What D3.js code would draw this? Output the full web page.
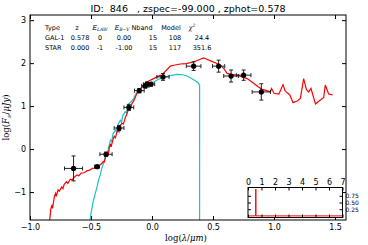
<!DOCTYPE html>
<html>
<head>
<meta charset="utf-8">
<script src="https://cdn.jsdelivr.net/npm/d3@7"></script>
<style>
  body { margin: 0; background: #fff; }
  svg { display: block; font-family: "DejaVu Sans", sans-serif; }
  .math { font-family: "DejaVu Serif", serif; }
</style>
</head>
<body>
<div id="graf"></div>
<script>
// datos fotometricos (log lambda, log flux, errores)
photX    = [-0.643, -0.451, -0.377, -0.27, -0.19, -0.104, -0.055, -0.041, -0.008, 0.09, 0.341, 0.546, 0.648, 0.751, 0.896]
photY    = [-0.45, -0.41, -0.12, 0.49, 0.97, 1.36, 1.47, 1.51, 1.51, 1.68, 1.93, 1.93, 1.70, 1.72, 1.33]
photXErr = [0.074, 0.02, 0.05, 0.04, 0.04, 0.04, 0.03, 0.03, 0.03, 0.05, 0.06, 0.05, 0.06, 0.06, 0.075]
photYErr = [0.29, 0.03, 0.05, 0.06, 0.07, 0.05, 0.05, 0.05, 0.04, 0.08, 0.1, 0.14, 0.14, 0.12, 0.19]

// template galaxia (rojo)
galX = [-0.84, -0.83, -0.82, -0.815, -0.80, -0.79, -0.785, -0.77, -0.76, -0.74, -0.73, -0.72, -0.70, -0.69, -0.67, -0.655, -0.64, -0.615, -0.60, -0.58, -0.56, -0.54, -0.53, -0.51, -0.49, -0.47, -0.45, -0.43, -0.41, -0.40, -0.39, -0.38, -0.37, -0.36, -0.35, -0.34, -0.335, -0.32, -0.31, -0.30, -0.29, -0.28, -0.27, -0.26, -0.246, -0.235, -0.22, -0.205, -0.19, -0.18, -0.164, -0.15, -0.123, -0.10, -0.08, -0.055, -0.03, 0.013, 0.04, 0.068, 0.085, 0.095, 0.12, 0.15, 0.18, 0.232, 0.28, 0.314, 0.36, 0.396, 0.423, 0.45, 0.49, 0.533, 0.56, 0.587, 0.615, 0.65, 0.697, 0.74, 0.779, 0.81, 0.833, 0.87, 0.902, 0.94, 0.97, 0.98, 1.0, 1.04, 1.074, 1.09, 1.10, 1.13, 1.156, 1.19, 1.216, 1.243, 1.265, 1.284, 1.303, 1.34, 1.38, 1.407, 1.42, 1.448, 1.48]
galY = [-1.70, -1.40, -1.30, -1.38, -1.10, -1.03, -1.10, -0.95, -0.98, -0.88, -0.92, -0.82, -0.76, -0.80, -0.70, -0.72, -0.66, -0.60, -0.62, -0.56, -0.55, -0.52, -0.50, -0.49, -0.45, -0.44, -0.41, -0.38, -0.33, -0.29, -0.30, -0.18, -0.10, -0.14, 0.02, 0.12, 0.05, 0.22, 0.30, 0.26, 0.37, 0.45, 0.40, 0.55, 0.60, 0.58, 0.72, 0.83, 0.95, 0.92, 1.06, 1.12, 1.30, 1.38, 1.45, 1.53, 1.58, 1.64, 1.68, 1.72, 1.70, 1.77, 1.84, 1.93, 1.95, 1.98, 1.99, 2.01, 2.05, 2.09, 2.12, 2.09, 2.04, 1.99, 1.95, 1.88, 1.76, 1.74, 1.72, 1.68, 1.64, 1.58, 1.53, 1.45, 1.39, 1.36, 1.33, 1.41, 1.30, 1.28, 1.50, 1.36, 1.33, 1.26, 1.08, 1.12, 1.18, 1.64, 1.39, 1.33, 1.41, 1.05, 1.14, 1.20, 1.49, 1.28, 1.26]

// template estrella (cian)
starX = [-0.51, -0.50, -0.49, -0.48, -0.465, -0.45, -0.44, -0.424, -0.41, -0.397, -0.385, -0.37, -0.36, -0.35, -0.34, -0.33, -0.32, -0.30, -0.29, -0.28, -0.26, -0.25, -0.24, -0.22, -0.21, -0.19, -0.17, -0.15, -0.123, -0.09, -0.055, 0.013, 0.05, 0.095, 0.15, 0.205, 0.25, 0.287, 0.32, 0.355, 0.375, 0.39, 0.39]
starY = [-1.70, -1.50, -1.34, -1.19, -1.03, -0.88, -0.74, -0.60, -0.43, -0.33, -0.20, -0.10, -0.02, 0.10, 0.21, 0.18, 0.35, 0.44, 0.40, 0.56, 0.67, 0.62, 0.78, 0.87, 0.84, 1.06, 1.10, 1.18, 1.33, 1.42, 1.49, 1.56, 1.62, 1.67, 1.71, 1.74, 1.73, 1.70, 1.65, 1.59, 1.55, 1.49, -1.70]

// P(z)
pzX = [0, 0.565, 0.578, 0.591, 7]
pzY = [0, 0, 1, 0, 0]

// tabla
tablaHeader = ['Type', 'z', 'E_LAW', 'E_B-V', 'Nband', 'Model', 'χ²']
tablaRows = [
  ['GAL-1', '0.578', '0', '0.00', '15', '108', '24.4'],
  ['STAR', '0.000', '-1', '-1.00', '15', '117', '351.6']
]

xTicks = [-1.0, -0.5, 0.0, 0.5, 1.0, 1.5]
yTicks = [-1, 0, 1, 2, 3]
pzXTicks = [0, 1, 2, 3, 4, 5, 6, 7]
pzYTicks = [0.25, 0.5, 0.75]

titulo = 'ID:  846   , zspec=-99.000 , zphot=0.578'

// Configuracion de tamanos
ancho_total = 368
alto_total = 245
margins = { top: 15, left: 30, right: 22, bottom: 25 }
ancho = ancho_total - margins.left - margins.right
alto = alto_total - margins.top - margins.bottom

svg = d3.select('#graf').append('svg')
  .attr('width', ancho_total)
  .attr('height', alto_total)

g = svg.append('g')
  .attr('transform', `translate(${margins.left}, ${margins.top})`)

x = d3.scaleLinear().domain([-1, 1.59]).range([0, ancho])
y = d3.scaleLinear().domain([-1.65, 3.12]).range([alto, 0])

g.append('clipPath').attr('id', 'clip')
  .append('rect').attr('width', ancho).attr('height', alto)

linea = d3.line().x(d => x(d[0])).y(d => y(d[1]))

plot = g.append('g').attr('clip-path', 'url(#clip)')

plot.append('path')
  .datum(starX.map((d, i) => [d, starY[i]]))
  .attr('d', linea)
  .attr('fill', 'none')
  .attr('stroke', '#19c3c8')
  .attr('stroke-width', 1.2)

plot.append('path')
  .datum(galX.map((d, i) => [d, galY[i]]))
  .attr('d', linea)
  .attr('fill', 'none')
  .attr('stroke', '#ff0000')
  .attr('stroke-width', 1.2)

// barras de error
puntos = photX.map((d, i) => ({ x: d, y: photY[i], xe: photXErr[i], ye: photYErr[i] }))
eb = plot.append('g').attr('stroke', '#222').attr('stroke-width', 1)
puntos.forEach(d => {
  eb.append('line').attr('x1', x(d.x - d.xe)).attr('x2', x(d.x + d.xe)).attr('y1', y(d.y)).attr('y2', y(d.y))
  eb.append('line').attr('x1', x(d.x)).attr('x2', x(d.x)).attr('y1', y(d.y - d.ye)).attr('y2', y(d.y + d.ye))
  ;[d.x - d.xe, d.x + d.xe].forEach(v => {
    eb.append('line').attr('x1', x(v)).attr('x2', x(v)).attr('y1', y(d.y) - 2).attr('y2', y(d.y) + 2)
  })
  ;[d.y - d.ye, d.y + d.ye].forEach(v => {
    eb.append('line').attr('x1', x(d.x) - 2).attr('x2', x(d.x) + 2).attr('y1', y(v)).attr('y2', y(v))
  })
})
plot.selectAll('circle.pt').data(puntos).enter()
  .append('circle').attr('class', 'pt')
  .attr('cx', d => x(d.x)).attr('cy', d => y(d.y))
  .attr('r', 2.6).attr('fill', '#000')

// ejes (ticks hacia dentro)
function estiloEje(sel) {
  sel.select('.domain').remove()
  sel.selectAll('text').attr('font-size', 8).attr('font-family', '"DejaVu Sans", sans-serif').attr('fill', '#000')
  sel.selectAll('line').attr('stroke', '#000')
}
g.append('g').attr('transform', `translate(0, ${alto})`)
  .call(d3.axisBottom(x).tickValues(xTicks).tickFormat(d3.format('.1f')).tickSize(-4).tickPadding(4))
  .call(estiloEje)
g.append('g')
  .call(d3.axisTop(x).tickValues(xTicks).tickFormat('').tickSize(-4))
  .call(estiloEje)
g.append('g')
  .call(d3.axisLeft(y).tickValues(yTicks).tickFormat(d3.format('d')).tickSize(-4).tickPadding(4))
  .call(estiloEje)
g.append('g').attr('transform', `translate(${ancho}, 0)`)
  .call(d3.axisRight(y).tickValues(yTicks).tickFormat('').tickSize(-4))
  .call(estiloEje)

g.append('rect').attr('width', ancho).attr('height', alto)
  .attr('fill', 'none').attr('stroke', '#000').attr('stroke-width', 1)

// titulo y etiquetas
svg.append('text').attr('x', margins.left + ancho / 2).attr('y', 12)
  .attr('text-anchor', 'middle').attr('font-size', 9.5).style('white-space', 'pre')
  .text(titulo)

xl = svg.append('text').attr('class', 'math').attr('x', margins.left + ancho / 2 - 2).attr('y', 241)
  .attr('text-anchor', 'middle').attr('font-size', 8.5)
xl.append('tspan').text('log(')
xl.append('tspan').attr('font-style', 'italic').text('λ')
xl.append('tspan').text('/')
xl.append('tspan').attr('font-style', 'italic').text('μm')
xl.append('tspan').text(')')

yl = svg.append('text').attr('class', 'math')
  .attr('transform', `translate(9, ${margins.top + alto / 2}) rotate(-90)`)
  .attr('text-anchor', 'middle').attr('font-size', 8.5)
yl.append('tspan').text('log(')
yl.append('tspan').attr('font-style', 'italic').text('F')
yl.append('tspan').attr('font-style', 'italic').attr('font-size', 6).attr('dy', 2).text('ν')
yl.append('tspan').attr('dy', -2).text('/')
yl.append('tspan').attr('font-style', 'italic').text('μJy')
yl.append('tspan').text(')')

// tabla
colX = [45, 77, 100, 122, 142, 171, 192]
rowColX = [45, 80, 100, 124, 153, 175, 202]
tabla = svg.append('g').attr('font-size', 6.5)
tablaHeader.forEach((h, i) => {
  t = tabla.append('text').attr('x', colX[i]).attr('y', 29.5)
    .attr('text-anchor', i == 0 ? 'start' : 'middle')
  if (h == 'E_LAW' || h == 'E_B-V') {
    t.attr('class', 'math').attr('font-style', 'italic')
    t.append('tspan').text('E')
    t.append('tspan').attr('font-size', 4.5).attr('dy', 1.2).text(h == 'E_LAW' ? 'LAW' : 'B−V')
  } else if (h == 'χ²') {
    t.attr('class', 'math').attr('font-style', 'italic')
    t.append('tspan').text('χ')
    t.append('tspan').attr('font-size', 4.5).attr('dy', -2.5).text('2')
  } else {
    t.text(h)
  }
})
tablaRows.forEach((r, j) => {
  r.forEach((v, i) => {
    tabla.append('text').attr('x', rowColX[i]).attr('y', 39.8 + j * 10)
      .attr('text-anchor', i == 0 ? 'start' : 'middle')
      .text(v)
  })
})

// inset P(z)
ix0 = 248, iy0 = 187.5, iw = 94.5, ih = 30
gi = svg.append('g').attr('transform', `translate(${ix0}, ${iy0})`)
px = d3.scaleLinear().domain([0, 7]).range([0, iw])
py = d3.scaleLinear().domain([-0.06, 1.06]).range([ih, 0])
gi.append('rect').attr('width', iw).attr('height', ih).attr('fill', '#fff')
gi.append('path')
  .datum(pzX.map((d, i) => [d, pzY[i]]))
  .attr('d', d3.line().x(d => px(d[0])).y(d => py(d[1])))
  .attr('fill', 'none').attr('stroke', '#ff0000').attr('stroke-width', 1)
gi.append('g')
  .call(d3.axisTop(px).tickValues(pzXTicks).tickFormat(d3.format('d')).tickSize(-3).tickPadding(3))
  .call(estiloEje)
gi.append('g').attr('transform', `translate(0, ${ih})`)
  .call(d3.axisBottom(px).tickValues(pzXTicks).tickFormat('').tickSize(-3))
  .call(estiloEje)
gi.append('g')
  .call(d3.axisLeft(py).tickValues(pzYTicks).tickFormat('').tickSize(-3))
  .call(estiloEje)
gi.append('g').attr('transform', `translate(${iw}, 0)`)
  .call(d3.axisRight(py).tickValues(pzYTicks).tickFormat(d3.format('.2f')).tickSize(-3).tickPadding(3))
  .call(estiloEje)
  .selectAll('text').attr('font-size', 6)
gi.append('rect').attr('width', iw).attr('height', ih)
  .attr('fill', 'none').attr('stroke', '#000').attr('stroke-width', 1)
</script>
</body>
</html>
